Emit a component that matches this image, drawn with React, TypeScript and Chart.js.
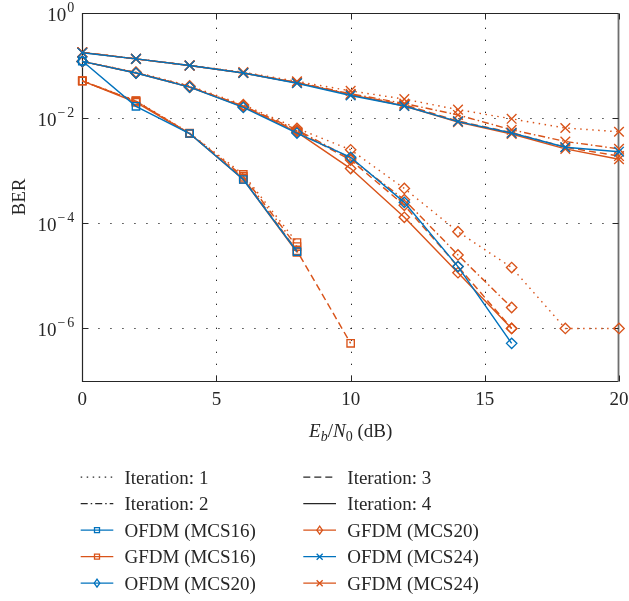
import React, { useEffect, useRef } from "react";
import { Chart, registerables } from "chart.js";

Chart.register(...registerables);

// ---------- data ----------
const snr = [0, 2, 4, 6, 8, 10, 12, 14, 16, 18, 20];
const xTicks = [0, 5, 10, 15, 20];
const yTickExponents = [0, -2, -4, -6];

const ofdmMcs16 = [0.122, 0.0168, 0.0051, 6.8e-4, 2.9e-5];
const gfdmMcs16It1 = [0.051, 0.0215, 0.0052, 8.5e-4, 4.3e-5];
const gfdmMcs16It2 = [0.051, 0.021, 0.0051, 7.8e-4, 3.6e-5];
const gfdmMcs16It3 = [0.051, 0.021, 0.0051, 7.2e-4, 3.0e-5, 5.2e-7];
const gfdmMcs16It4 = [0.051, 0.02, 0.0051, 6.8e-4, 2.8e-5];

const ofdmMcs20 = [0.12, 0.072, 0.039, 0.016, 0.0052, 0.0018, 2.5e-4, 1.5e-5, 5.2e-7];
const gfdmMcs20It1 = [0.12, 0.075, 0.041, 0.018, 0.0064, 0.0025, 4.6e-4, 6.9e-5, 1.44e-5, 1.0e-6, 1.0e-6];
const gfdmMcs20It2 = [0.12, 0.073, 0.04, 0.017, 0.006, 0.0017, 2.8e-4, 2.5e-5, 2.5e-6];
const gfdmMcs20It3 = [0.12, 0.073, 0.039, 0.017, 0.0057, 0.0016, 2.2e-4, 1.5e-5, 1.0e-6];
const gfdmMcs20It4 = [0.12, 0.072, 0.039, 0.0165, 0.0054, 0.0011, 1.3e-4, 1.15e-5, 1.0e-6];

const ofdmMcs24 = [0.176, 0.134, 0.1, 0.072, 0.046, 0.027, 0.017, 0.0086, 0.0052, 0.0028, 0.0023];
const gfdmMcs24It1 = [0.178, 0.134, 0.101, 0.075, 0.05, 0.033, 0.023, 0.0145, 0.0097, 0.0065, 0.0055];
const gfdmMcs24It2 = [0.178, 0.134, 0.1, 0.073, 0.048, 0.029, 0.019, 0.0115, 0.006, 0.0036, 0.0026];
const gfdmMcs24It3 = [0.178, 0.134, 0.1, 0.072, 0.047, 0.028, 0.018, 0.0088, 0.0053, 0.0028, 0.0019];
const gfdmMcs24It4 = [0.178, 0.134, 0.1, 0.072, 0.047, 0.028, 0.017, 0.0084, 0.005, 0.0026, 0.00165];

// ---------- styles ----------
const BLUE = "#0072BD";
const ORANGE = "#D95319";
const TEXT = "#262626";
const FONT = '"Liberation Serif", "Times New Roman", serif';

const DASH = {
  it1: [1.5, 4.5],
  it2: [7, 3, 1.5, 3],
  it3: [7, 4],
  it4: [] as number[],
};

type Marker = "rect" | "rectRot" | "crossRot" | "none";
const RADIUS: Record<string, number> = { rect: 5.2, rectRot: 5.2, crossRot: 6.8 };

interface SeriesDef {
  label: string;
  values: number[];
  color: string;
  dash: number[];
  marker: Marker;
}

const series: SeriesDef[] = [
  { label: "OFDM (MCS16)", values: ofdmMcs16, color: BLUE, dash: DASH.it4, marker: "rect" },
  { label: "OFDM (MCS20)", values: ofdmMcs20, color: BLUE, dash: DASH.it4, marker: "rectRot" },
  { label: "OFDM (MCS24)", values: ofdmMcs24, color: BLUE, dash: DASH.it4, marker: "crossRot" },
  { label: "GFDM (MCS16) it4", values: gfdmMcs16It4, color: ORANGE, dash: DASH.it4, marker: "rect" },
  { label: "GFDM (MCS20) it4", values: gfdmMcs20It4, color: ORANGE, dash: DASH.it4, marker: "rectRot" },
  { label: "GFDM (MCS24) it4", values: gfdmMcs24It4, color: ORANGE, dash: DASH.it4, marker: "crossRot" },
  { label: "GFDM (MCS16) it3", values: gfdmMcs16It3, color: ORANGE, dash: DASH.it3, marker: "rect" },
  { label: "GFDM (MCS20) it3", values: gfdmMcs20It3, color: ORANGE, dash: DASH.it3, marker: "rectRot" },
  { label: "GFDM (MCS24) it3", values: gfdmMcs24It3, color: ORANGE, dash: DASH.it3, marker: "crossRot" },
  { label: "GFDM (MCS16) it2", values: gfdmMcs16It2, color: ORANGE, dash: DASH.it2, marker: "rect" },
  { label: "GFDM (MCS20) it2", values: gfdmMcs20It2, color: ORANGE, dash: DASH.it2, marker: "rectRot" },
  { label: "GFDM (MCS24) it2", values: gfdmMcs24It2, color: ORANGE, dash: DASH.it2, marker: "crossRot" },
  { label: "GFDM (MCS16) it1", values: gfdmMcs16It1, color: ORANGE, dash: DASH.it1, marker: "rect" },
  { label: "GFDM (MCS20) it1", values: gfdmMcs20It1, color: ORANGE, dash: DASH.it1, marker: "rectRot" },
  { label: "GFDM (MCS24) it1", values: gfdmMcs24It1, color: ORANGE, dash: DASH.it1, marker: "crossRot" },
];

interface LegendItem {
  label: string;
  color: string;
  dash: number[];
  marker: Marker;
}

const legendColumns: LegendItem[][] = [
  [
    { label: "Iteration: 1", color: TEXT, dash: DASH.it1, marker: "none" },
    { label: "Iteration: 2", color: TEXT, dash: DASH.it2, marker: "none" },
    { label: "OFDM (MCS16)", color: BLUE, dash: DASH.it4, marker: "rect" },
    { label: "GFDM (MCS16)", color: ORANGE, dash: DASH.it4, marker: "rect" },
    { label: "OFDM (MCS20)", color: BLUE, dash: DASH.it4, marker: "rectRot" },
  ],
  [
    { label: "Iteration: 3", color: TEXT, dash: DASH.it3, marker: "none" },
    { label: "Iteration: 4", color: TEXT, dash: DASH.it4, marker: "none" },
    { label: "GFDM (MCS20)", color: ORANGE, dash: DASH.it4, marker: "rectRot" },
    { label: "OFDM (MCS24)", color: BLUE, dash: DASH.it4, marker: "crossRot" },
    { label: "GFDM (MCS24)", color: ORANGE, dash: DASH.it4, marker: "crossRot" },
  ],
];

function drawSmallMarker(ctx: CanvasRenderingContext2D, m: Marker, x: number, y: number) {
  ctx.beginPath();
  if (m === "rect") {
    ctx.rect(x - 2.5, y - 2.5, 5, 5);
  } else if (m === "rectRot") {
    ctx.moveTo(x, y - 4);
    ctx.lineTo(x + 2.8, y);
    ctx.lineTo(x, y + 4);
    ctx.lineTo(x - 2.8, y);
    ctx.closePath();
  } else if (m === "crossRot") {
    ctx.moveTo(x - 3, y - 3);
    ctx.lineTo(x + 3, y + 3);
    ctx.moveTo(x + 3, y - 3);
    ctx.lineTo(x - 3, y + 3);
  }
  ctx.stroke();
}

const decorPlugin = {
  id: "decor",
  beforeDatasetsDraw(chart: any) {
    const { ctx, chartArea } = chart;
    const xs = chart.scales.x;
    const ys = chart.scales.y;
    const { left, right, top, bottom } = chartArea;
    ctx.save();
    // dotted grid
    ctx.strokeStyle = TEXT;
    ctx.lineWidth = 1;
    ctx.setLineDash([1.3, 10.7]);
    for (const v of xTicks) {
      const px = Math.round(xs.getPixelForValue(v)) + 0.5;
      if (px <= left + 1 || px >= right - 1) continue;
      ctx.beginPath();
      ctx.moveTo(px, bottom - 4);
      ctx.lineTo(px, top);
      ctx.stroke();
    }
    for (const e of yTickExponents) {
      const py = Math.round(ys.getPixelForValue(Math.pow(10, e))) + 0.5;
      if (py <= top + 1 || py >= bottom - 1) continue;
      ctx.beginPath();
      ctx.moveTo(left + 4, py);
      ctx.lineTo(right, py);
      ctx.stroke();
    }
    ctx.setLineDash([]);
    // frame
    const L = Math.round(left) + 0.5;
    const R = Math.round(right) - 0.5;
    const T = Math.round(top) + 0.5;
    const B = Math.round(bottom) + 0.5;
    ctx.strokeStyle = TEXT;
    ctx.lineWidth = 1.2;
    ctx.beginPath();
    ctx.moveTo(R, T);
    ctx.lineTo(L, T);
    ctx.lineTo(L, B);
    ctx.lineTo(R, B);
    ctx.stroke();
    ctx.strokeStyle = "#6e6e6e";
    ctx.lineWidth = 1.8;
    ctx.beginPath();
    ctx.moveTo(R, T);
    ctx.lineTo(R, B);
    ctx.stroke();
    // ticks
    ctx.strokeStyle = TEXT;
    ctx.lineWidth = 1;
    const tl = 6;
    for (const v of xTicks) {
      const px = Math.round(xs.getPixelForValue(v)) + 0.5;
      ctx.beginPath();
      ctx.moveTo(px, B);
      ctx.lineTo(px, B - tl);
      ctx.moveTo(px, T);
      ctx.lineTo(px, T + tl);
      ctx.stroke();
    }
    for (const e of yTickExponents) {
      const py = Math.round(ys.getPixelForValue(Math.pow(10, e))) + 0.5;
      ctx.beginPath();
      ctx.moveTo(L, py);
      ctx.lineTo(L + tl, py);
      ctx.moveTo(R, py);
      ctx.lineTo(R - tl, py);
      ctx.stroke();
    }
    ctx.restore();
  },
  afterDraw(chart: any) {
    const { ctx, chartArea } = chart;
    const xs = chart.scales.x;
    const ys = chart.scales.y;
    const { left, right, top, bottom } = chartArea;
    ctx.save();
    ctx.fillStyle = TEXT;
    // x tick labels
    ctx.font = `19px ${FONT}`;
    ctx.textAlign = "center";
    ctx.textBaseline = "alphabetic";
    for (const v of xTicks) {
      ctx.fillText(String(v), xs.getPixelForValue(v), bottom + 24);
    }
    // y tick labels 10^e
    ctx.textAlign = "left";
    for (const e of yTickExponents) {
      const py = ys.getPixelForValue(Math.pow(10, e));
      ctx.font = `14px ${FONT}`;
      const digit = String(Math.abs(e));
      const minusW = e < 0 ? ctx.measureText("\u2212").width + 2 : 0;
      const digitW = ctx.measureText(digit).width;
      ctx.font = `19px ${FONT}`;
      const baseW = ctx.measureText("10").width;
      const rightEdge = left - 8;
      const x0 = rightEdge - digitW - minusW - baseW - 1;
      ctx.fillText("10", x0, py + 8);
      ctx.font = `14px ${FONT}`;
      let ex = x0 + baseW + 1;
      if (e < 0) {
        ctx.fillText("\u2212", ex, py - 1);
        ex += minusW;
      }
      ctx.fillText(digit, ex, py - 1);
    }
    // y axis title
    ctx.save();
    ctx.font = `19px ${FONT}`;
    ctx.textAlign = "center";
    ctx.translate(24.6, (top + bottom) / 2);
    ctx.rotate(-Math.PI / 2);
    ctx.fillText("BER", 0, 0);
    ctx.restore();
    // x axis title: E_b/N_0 (dB)
    const parts: { t: string; font: string; dy: number }[] = [
      { t: "E", font: `italic 19px ${FONT}`, dy: 0 },
      { t: "b", font: `italic 14px ${FONT}`, dy: 4 },
      { t: "/", font: `19px ${FONT}`, dy: 0 },
      { t: "N", font: `italic 19px ${FONT}`, dy: 0 },
      { t: "0", font: `14px ${FONT}`, dy: 4 },
      { t: " (dB)", font: `19px ${FONT}`, dy: 0 },
    ];
    let total = 0;
    const widths = parts.map((p) => {
      ctx.font = p.font;
      const w = ctx.measureText(p.t).width;
      total += w;
      return w;
    });
    let tx = (left + right) / 2 - total / 2;
    const tBase = bottom + 55.7;
    ctx.textAlign = "left";
    parts.forEach((p, i) => {
      ctx.font = p.font;
      ctx.fillText(p.t, tx, tBase + p.dy);
      tx += widths[i];
    });
    // legend
    const colX = [
      { x1: 80.7, x2: 113.3, tx: 124.5 },
      { x1: 303.3, x2: 336, tx: 347.3 },
    ];
    const row0 = 477.2;
    const rowH = 26.5;
    legendColumns.forEach((col, ci) => {
      col.forEach((item, ri) => {
        const cy = row0 + ri * rowH;
        const c = colX[ci];
        ctx.strokeStyle = item.color;
        ctx.lineWidth = 1.3;
        ctx.setLineDash(item.dash);
        ctx.beginPath();
        ctx.moveTo(c.x1, cy);
        ctx.lineTo(c.x2, cy);
        ctx.stroke();
        ctx.setLineDash([]);
        if (item.marker !== "none") {
          drawSmallMarker(ctx, item.marker, (c.x1 + c.x2) / 2, cy);
        }
        ctx.fillStyle = TEXT;
        ctx.font = `19px ${FONT}`;
        ctx.fillText(item.label, c.tx, cy + 6.6);
      });
    });
    ctx.restore();
  },
};

if (typeof document !== "undefined") {
  document.body.style.margin = "0";
}

export default function App() {
  const ref = useRef<HTMLCanvasElement>(null);
  useEffect(() => {
    document.body.style.margin = "0";
    const canvas = ref.current;
    if (!canvas) return;
    const datasets = series.map((s) => ({
      label: s.label,
      data: s.values.map((v, i) => ({ x: snr[i], y: v })),
      borderColor: s.color,
      borderWidth: 1.45,
      borderDash: s.dash,
      pointStyle: s.marker,
      pointRadius: RADIUS[s.marker],
      pointBorderColor: s.color,
      pointBackgroundColor: "rgba(0,0,0,0)",
      pointBorderWidth: 1.35,
      fill: false,
      tension: 0,
      clip: false as any,
    }));
    const chart = new Chart(canvas, {
      type: "line",
      data: { datasets },
      options: {
        animation: false,
        responsive: false,
        events: [],
        layout: { padding: { left: 82.3, top: 13, right: 10, bottom: 220 } },
        scales: {
          x: { type: "linear", min: 0, max: 20, display: false },
          y: { type: "logarithmic", min: 1e-7, max: 1, display: false },
        },
        plugins: { legend: { display: false }, tooltip: { enabled: false } },
      },
      plugins: [decorPlugin],
    });
    return () => chart.destroy();
  }, []);
  return (
    <canvas
      ref={ref}
      width={629}
      height={601}
      style={{ display: "block" }}
    />
  );
}
